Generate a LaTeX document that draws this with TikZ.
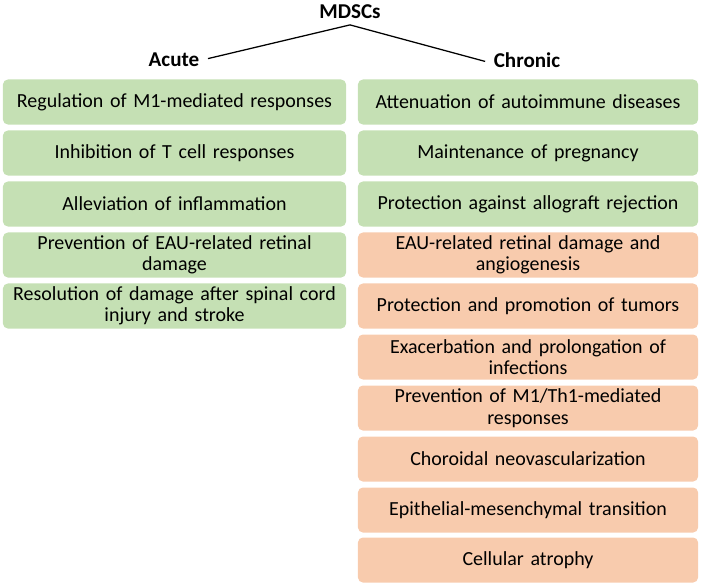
\documentclass[tikz,border=0pt]{standalone}
\usepackage{fontspec}
\setmainfont{Carlito}
\usepackage{xcolor}
\definecolor{goodgreen}{HTML}{C5E0B4}
\definecolor{badorange}{HTML}{F8CBAD}
\usetikzlibrary{calc}

\tikzset{
  head/.style={font=\fontsize{15}{16}\selectfont\bfseries, inner sep=3pt},
  effect/.style={rounded corners=3.5pt, align=center, inner sep=1pt,
    minimum height=1.125cm, font=\fontsize{14.2}{15.2}\selectfont},
  acutebox/.style={effect, fill=goodgreen, minimum width=8.575cm, text width=8.4cm},
  chronbox/.style={effect, fill=badorange, minimum width=8.5cm, text width=8.35cm},
  chrongood/.style={chronbox, fill=goodgreen},
}

\begin{document}
\begin{tikzpicture}[x=0.025cm, y=-0.025cm]
  \useasboundingbox (0,0) rectangle (702,585);
  \node[head] (mdscs) at (350,12) {MDSCs};
  \node[head] (acute) at (174,60) {Acute};
  \node[head] (chronic) at (527,60) {Chronic};
  \draw[line width=0.9pt] ($(acute.east)+(3pt,1pt)$) -- ($(mdscs.south)+(0,-1pt)$) -- ($(chronic.west)+(-3pt,-1pt)$);
  % acute column
  \node[acutebox] (a1) at (174.5,102) {Regulation of M1-mediated responses};
  \node[acutebox] (a2) at (174.5,153) {Inhibition of T cell responses};
  \node[acutebox] (a3) at (174.5,204) {Alleviation of inflammation};
  \node[acutebox] (a4) at (174.5,255) {Prevention of EAU-related retinal\\damage};
  \node[acutebox] (a5) at (174.5,306) {Resolution of damage after spinal cord\\injury and stroke};
  % chronic column
  \node[chrongood] (c1) at (528,102) {Attenuation of autoimmune diseases};
  \node[chrongood] (c2) at (528,153) {Maintenance of pregnancy};
  \node[chrongood] (c3) at (528,204) {Protection against allograft rejection};
  \node[chronbox] (c4) at (528,255) {EAU-related retinal damage and\\angiogenesis};
  \node[chronbox] (c5) at (528,306) {Protection and promotion of tumors};
  \node[chronbox] (c6) at (528,357) {Exacerbation and prolongation of\\infections};
  \node[chronbox] (c7) at (528,408) {Prevention of M1/Th1-mediated\\responses};
  \node[chronbox] (c8) at (528,459) {Choroidal neovascularization};
  \node[chronbox] (c9) at (528,510) {Epithelial-mesenchymal transition};
  \node[chronbox] (c10) at (528,560) {Cellular atrophy};
\end{tikzpicture}
\end{document}
